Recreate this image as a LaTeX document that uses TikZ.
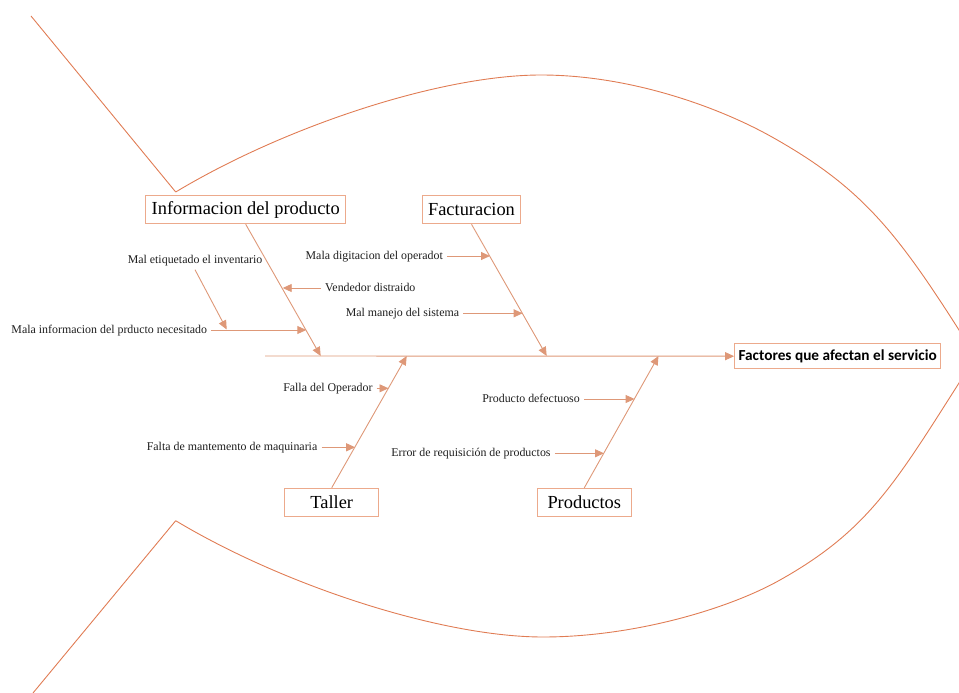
\documentclass[tikz,border=0pt]{standalone}
\usepackage{fontspec}
\setmainfont{Liberation Serif}
\newfontfamily\calibfont{Carlito}
\usetikzlibrary{arrows.meta}

\definecolor{fishline}{RGB}{224,124,84}
\definecolor{boxline}{RGB}{236,170,140}
\definecolor{boneline}{RGB}{222,152,120}
\definecolor{labeltext}{RGB}{30,30,30}

\tikzset{
  catbox/.style={draw=boxline, line width=1.1pt, fill=white, inner sep=0pt,
    font=\rmfamily\fontsize{18.4}{22}\selectfont, text=black},
  effectbox/.style={draw=boxline, line width=1.1pt, fill=white, inner sep=0pt,
    font=\calibfont\bfseries\fontsize{15.3}{18}\selectfont, text=black},
  causelabel/.style={inner sep=4pt, font=\rmfamily\fontsize{11.9}{14}\selectfont,
    text=labeltext, text height=8.5pt, text depth=2.5pt},
  bone/.style={draw=boneline, line width=0.9pt,
    -{Triangle[length=9pt,width=8pt]}},
  fishbody/.style={draw=fishline, line width=0.9pt},
}

\begin{document}
\begin{tikzpicture}[x=1pt, y=-1pt]
\useasboundingbox (0,0) rectangle (959,693);

% fish outline: tail and body, cut at the page edge
\begin{scope}
\clip (0,0) rectangle (959,693);
\coordinate (tailtop) at (31,16);
\coordinate (tailbot) at (33,693);
\coordinate (bodytop) at (175.7,192);
\coordinate (bodybot) at (175.7,520.7);
\draw[fishbody] (tailtop) -- (bodytop);
\draw[fishbody] (tailbot) -- (bodybot);
% upper body arc
\draw[fishbody] (bodytop)
  .. controls (285.7,126) and (441,75) .. (541,75)
  .. controls (631,75) and (719.7,107.6) .. (772,137)
  .. controls (859.2,186) and (894.6,228.8) .. (959,330)
  -- (980,363);
% lower body arc
\draw[fishbody] (bodybot)
  .. controls (285.7,586.7) and (443,637) .. (543,637)
  .. controls (633,637) and (727.7,609.4) .. (780,580)
  .. controls (867.2,531) and (894.6,484.2) .. (959,383)
  -- (980,350);
\end{scope}

% category boxes and effect
\node[catbox, minimum width=200pt, minimum height=28pt] (info) at (245.7,209.7) {Informacion del producto};
\node[catbox, minimum width=97.6pt, minimum height=28pt] (fact) at (471.5,209.7) {Facturacion};
\node[catbox, minimum width=94pt, minimum height=27.7pt] (taller) at (331.7,502.2) {Taller};
\node[catbox, minimum width=94pt, minimum height=27.7pt] (prod) at (584.3,502.2) {Productos};
\node[effectbox, minimum width=206pt, minimum height=25pt] (effect) at (837.7,356.2) {Factores que afectan el servicio};

% spine
\coordinate (spinestart) at (265,356);
\draw[bone] (spinestart) -- (effect.west);

% main bones
\coordinate (infoend) at (320.7,356);
\coordinate (factend) at (546.7,356);
\coordinate (tallerend) at (406.7,356);
\coordinate (prodend) at (658.5,356);
\draw[bone] (info.south) -- (infoend);
\draw[bone] (fact.south) -- (factend);
\draw[bone] (taller.north) -- (tallerend);
\draw[bone] (prod.north) -- (prodend);

% causes: Informacion del producto
\node[causelabel, anchor=east] (malinfo) at (211.3,330) {Mala informacion del prducto necesitado};
\coordinate (malinfotip) at (306.3,330);
\draw[bone] (malinfo.east) -- (malinfotip);

\node[causelabel] (etiq) at (195,260) {Mal etiquetado el inventario};
\coordinate (etiqtip) at (226.7,329.5);
\draw[bone] (etiq.south) -- (etiqtip);

\node[causelabel, anchor=west] (vend) at (321,288) {Vendedor distraido};
\coordinate (vendtip) at (282.7,288);
\draw[bone] (vend.west) -- (vendtip);

% causes: Facturacion
\node[causelabel, anchor=east] (digit) at (447,256) {Mala digitacion del operadot};
\coordinate (digittip) at (490,256);
\draw[bone] (digit.east) -- (digittip);

\node[causelabel, anchor=east] (manejo) at (463.3,313.3) {Mal manejo del sistema};
\coordinate (manejotip) at (522.6,313.3);
\draw[bone] (manejo.east) -- (manejotip);

% causes: Taller
\node[causelabel, anchor=east] (falla) at (376.7,388.3) {Falla del Operador};
\coordinate (fallatip) at (388.5,388.3);
\draw[bone] (falla.east) -- (fallatip);

\node[causelabel, anchor=east] (falta) at (321.5,447.3) {Falta de mantemento de maquinaria};
\coordinate (faltatip) at (355.2,447.3);
\draw[bone] (falta.east) -- (faltatip);

% causes: Productos
\node[causelabel, anchor=east] (defect) at (584,399) {Producto defectuoso};
\coordinate (defecttip) at (634.6,399);
\draw[bone] (defect.east) -- (defecttip);

\node[causelabel, anchor=east] (requis) at (554.8,453.3) {Error de requisición de productos};
\coordinate (requistip) at (604,453.3);
\draw[bone] (requis.east) -- (requistip);
\end{tikzpicture}
\end{document}
